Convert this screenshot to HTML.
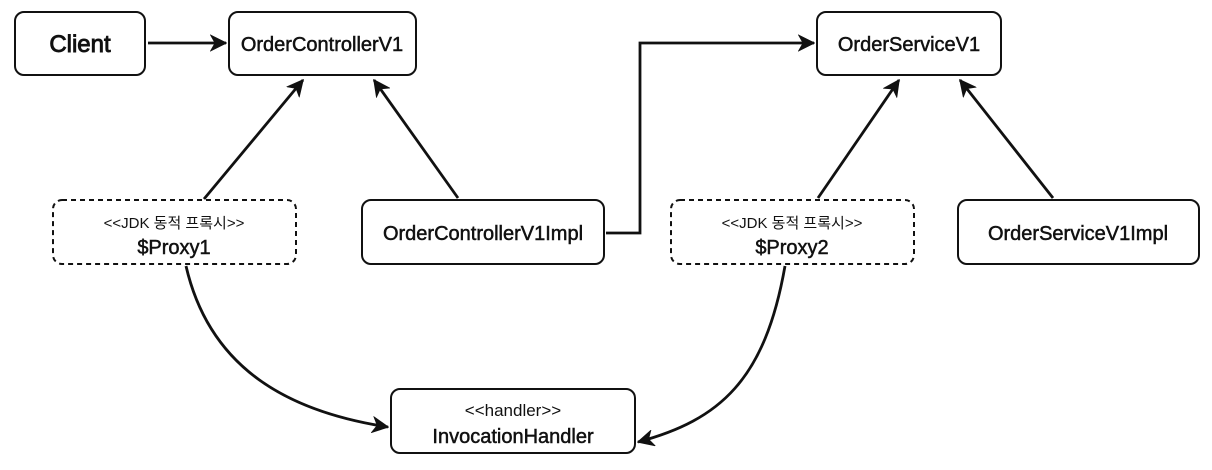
<!DOCTYPE html>
<html><head><meta charset="utf-8"><style>
html,body{margin:0;padding:0;background:#fff;}
svg{display:block;}
text{font-family:"Liberation Sans","Noto Sans CJK KR",sans-serif;fill:#111;}
.t{stroke:#111;stroke-width:0.5;}
</style></head><body>
<svg width="1212" height="470" viewBox="0 0 1212 470" xmlns="http://www.w3.org/2000/svg">
<defs>
<marker id="a" viewBox="0 0 16 16" refX="15" refY="8" markerWidth="17" markerHeight="17" markerUnits="userSpaceOnUse" orient="auto">
<path d="M1,1 L15,8 L1,15 L5,8 Z" fill="#111" stroke="#111" stroke-width="1.2" stroke-linejoin="miter"/>
</marker>
</defs>
<g fill="#fff" stroke="#111" stroke-width="2">
<rect x="15" y="12" width="130" height="63" rx="9"/>
<rect x="229" y="12" width="187" height="63" rx="9"/>
<rect x="817" y="12" width="184" height="63" rx="9"/>
<rect x="362" y="200" width="242" height="64" rx="9"/>
<rect x="958" y="200" width="241" height="64" rx="9"/>
<rect x="391" y="389" width="244" height="64" rx="9"/>
<rect x="53" y="200" width="243" height="64" rx="9" stroke-dasharray="5,4"/>
<rect x="671" y="200" width="243" height="64" rx="9" stroke-dasharray="5,4"/>
</g>
<g fill="none" stroke="#111" stroke-width="2.8">
<path d="M148,43 L226,43" marker-end="url(#a)"/>
<path d="M204,199 L303,80" marker-end="url(#a)"/>
<path d="M458,198 L374,80" marker-end="url(#a)"/>
<path d="M606,233 L640,233 L640,43 L814,43" marker-end="url(#a)"/>
<path d="M818,198 L899,80" marker-end="url(#a)"/>
<path d="M1053,198 L960,80" marker-end="url(#a)"/>
<path d="M186,266 C210,370 290,412 388,427" marker-end="url(#a)"/>
<path d="M785,266 C765,380 720,420 638,442" marker-end="url(#a)"/>
</g>
<g text-anchor="middle">
<text x="80" y="52" font-size="24" class="t" style="stroke-width:0.9">Client</text>
<text x="322" y="51" font-size="20" class="t">OrderControllerV1</text>
<text x="909" y="51" font-size="20" class="t">OrderServiceV1</text>
<text x="483" y="240" font-size="20" class="t">OrderControllerV1Impl</text>
<text x="1078" y="240" font-size="20" class="t">OrderServiceV1Impl</text>
<text x="174" y="228" font-size="15">&lt;&lt;JDK 동적 프록시&gt;&gt;</text>
<text x="174" y="254" font-size="20" class="t">$Proxy1</text>
<text x="792" y="228" font-size="15">&lt;&lt;JDK 동적 프록시&gt;&gt;</text>
<text x="792" y="254" font-size="20" class="t">$Proxy2</text>
<text x="513" y="416" font-size="17">&lt;&lt;handler&gt;&gt;</text>
<text x="513" y="443" font-size="20" class="t">InvocationHandler</text>
</g>
</svg>
</body></html>
